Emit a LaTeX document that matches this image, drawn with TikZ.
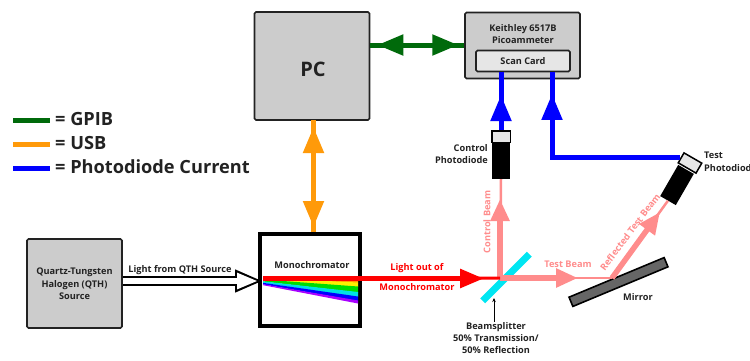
\documentclass[tikz,border=0pt]{standalone}
\usepackage{fontspec}
\setmainfont{Open Sans}
\usetikzlibrary{arrows.meta,positioning,calc,decorations.markings}
\definecolor{boxgray}{HTML}{CCCCCC}
\definecolor{cardgray}{HTML}{E6E6E6}
\definecolor{gpibgreen}{HTML}{006A0B}
\definecolor{usborange}{HTML}{FF9A0A}
\definecolor{currentblue}{HTML}{0000FF}
\definecolor{beampink}{HTML}{FF8C8C}
\definecolor{beamcyan}{HTML}{00E6F2}
\definecolor{inktext}{HTML}{222222}
\definecolor{fanorange}{HTML}{FF9A00}
\definecolor{fanyellow}{HTML}{FFF000}
\definecolor{fangreen}{HTML}{00DC00}
\definecolor{fancyan}{HTML}{00E0E6}
\definecolor{fanblue}{HTML}{0000FF}
\definecolor{fanviolet}{HTML}{A800FF}
\tikzset{
    instrument/.style={draw=inktext, line width=1.6pt, fill=boxgray, rounded corners=1.5pt, inner sep=0pt},
    caption/.style={font=\fontsize{9.2}{12.3}\selectfont\bfseries, text=inktext, align=center, inner sep=0pt},
    keytext/.style={caption, anchor=west, font=\fontsize{18.2}{22}\selectfont\bfseries},
    wire/.style={line width=5pt},
    bighead/.style={>={Triangle[length=26pt,width=20pt]}},
    bothheads/.style 2 args={bighead, postaction={decorate}, decoration={markings,
        mark=at position #1 with {\arrowreversed{>}},
        mark=at position #2 with {\arrow{>}}}},
    onehead/.style={bighead, postaction={decorate}, decoration={markings,
        mark=at position #1 with {\arrow{>}}}},
    beam/.style={line width=5.5pt, beampink},
    thinbeam/.style={line width=2.5pt, beampink},
    beamtip/.style={-{Triangle[length=22pt,width=18pt]}},
}
\begin{document}
\begin{tikzpicture}[x=1pt,y=-1pt]
    \useasboundingbox (0,0) rectangle (750,360);

    % Legend
    \coordinate (gpibkey) at (13,120);
    \coordinate (usbkey) at (13,144);
    \coordinate (currentkey) at (13,168);
    \draw[wire, gpibgreen] (gpibkey) -- ++(37,0);
    \draw[wire, usborange] (usbkey) -- ++(37,0);
    \draw[wire, currentblue] (currentkey) -- ++(37,0);
    \node[keytext] (gpibtext) at (55,119) {= GPIB};
    \node[keytext] (usbtext) at (55,143) {= USB};
    \node[keytext] (currenttext) at (55,167) {= Photodiode Current};

    % Instruments
    \node[instrument, minimum width=115pt, minimum height=108pt] (pc) at (312,66) {};
    \node[caption, font=\fontsize{20}{22}\selectfont\bfseries] (pctext) at (313,69) {PC};
    \node[instrument, minimum width=115pt, minimum height=66pt] (keithley) at (522.5,45.5) {};
    \node[caption] (keithleytext) at (523,34) {Keithley 6517B\\Picoammeter};
    \node[instrument, fill=cardgray, minimum width=94pt, minimum height=21pt] (card) at (523,61) {};
    \node[caption] (cardtext) at (card.center) {Scan Card};
    \node[instrument, minimum width=95pt, minimum height=89pt] (source) at (74.5,283.5) {};
    \node[caption] (sourcetext) at (74.5,284) {Quartz-Tungsten\\Halogen (QTH)\\Source};

    % Monochromator with its fan of colours
    \node[draw=black, line width=4pt, fill=white, minimum width=100pt, minimum height=92pt, inner sep=0pt] (mono) at (310,280) {};
    \node[caption] (monotext) at (312,265) {Monochromator};
    \foreach \shade/\upper/\lower in {fanorange/281/283, fanyellow/282.5/287, fangreen/286.5/292.5, fancyan/292/297, fanblue/296.5/301, fanviolet/300.5/303.5}
        \fill[\shade] ({263},{276+(\upper-276)/3}) -- (358,\upper) -- (358,\lower) -- ({263},{276+(\lower-276)/3}) -- cycle;

    % Lamp light
    \coordinate (lampend) at (source.east |- mono.west);
    \coordinate (lamptip) at (263,281);
    \draw[line width=9.5pt, -{Triangle[length=28pt,width=21pt]}] (lampend |- lamptip) -- (lamptip);
    \draw[line width=5.5pt, white, -{Triangle[length=21pt,width=15pt]}] (lampend |- lamptip) -- (258,281);
    \node[caption] (lamptext) at (180,270) {Light from QTH Source};

    % Wires
    \draw[wire, gpibgreen, bothheads={7pt}{88pt}] (pc.east |- 0,45) -- (keithley.west |- 0,45);
    \draw[wire, usborange, bothheads={7pt}{107pt}] (313.5,120) -- (313.5,232);

    % Photodiodes
    \node[fill=black, minimum width=18pt, minimum height=36pt, inner sep=0pt] (controlbody) at (501,161) {};
    \node[draw=black, line width=1.5pt, fill=cardgray, minimum width=18.5pt, minimum height=11.5pt, inner sep=0pt] (controlcap) at (501,136.5) {};
    \node[fill=black, rotate=-30, minimum width=18pt, minimum height=36pt, inner sep=0pt] (testbody) at (677,185) {};
    \node[draw=black, line width=1.5pt, fill=cardgray, rotate=-30, minimum width=20.5pt, minimum height=11.5pt, inner sep=0pt] (testcap) at (690,163) {};
    \node[caption, anchor=north east, align=right] (controltext) at (488,144) {Control\\Photodiode};
    \node[caption, anchor=north west, align=left] (testtext) at (704,152) {Test\\Photodiode};

    % Photodiode current
    \coordinate (cardin) at (552,72);
    \draw[wire, currentblue, onehead={35pt}] (controlcap.north) -- (controlcap.north |- card.south);
    \draw[wire, currentblue, onehead={192pt}] (testcap.west) -| (cardin);

    % Optics
    \node[fill=beamcyan, rotate=45, minimum width=66pt, minimum height=7pt, inner sep=0pt] (splitter) at (506,277.5) {};
    \node[draw=black, line width=1.6pt, fill=black!60, rotate=22.6, minimum width=103pt, minimum height=10pt, inner sep=0pt] (mirror) at (618.5,282) {};
    \coordinate (split) at (500,278);
    \coordinate (bounce) at (612,278);
    \coordinate (redin) at (263,278.5);

    % Beams
    \draw[thinbeam] (split) -- (controlbody.south);
    \draw[beam, beamtip] (split) -- (500,199);
    \draw[thinbeam] (split) -- (bounce);
    \draw[beam, beamtip] (split) -- (578,278);
    \draw[thinbeam] (bounce) -- (testbody.south);
    \draw[beam, beamtip] (bounce) -- (660,212);
    \draw[line width=3pt, red] (redin) -- (split);
    \draw[line width=5.5pt, red, -{Triangle[length=24pt,width=18pt]}] (redin) -- (484,278.5);

    % Beam labels
    \node[caption, text=red] (outtext) at (417,268) {Light out of};
    \node[caption, text=red] (outtexttwo) at (417,287) {Monochromator};
    \node[caption, text=beampink, rotate=90] (controlbeam) at (487,222) {Control Beam};
    \node[caption, text=beampink] (testbeam) at (568,264) {Test Beam};
    \node[caption, text=beampink, rotate=53] (reflectedbeam) at (630,232) {Reflected Test Beam};

    % Optics labels
    \node[caption] (mirrortext) at (638,297) {Mirror};
    \node[caption] (splittertext) at (496,338) {Beamsplitter\\50\% Transmission/\\50\% Reflection};
    \draw[-{Stealth[length=4pt,width=3.5pt]}, line width=0.8pt] (splittertext.north -| 494,0) -- (494,298);
\end{tikzpicture}
\end{document}
